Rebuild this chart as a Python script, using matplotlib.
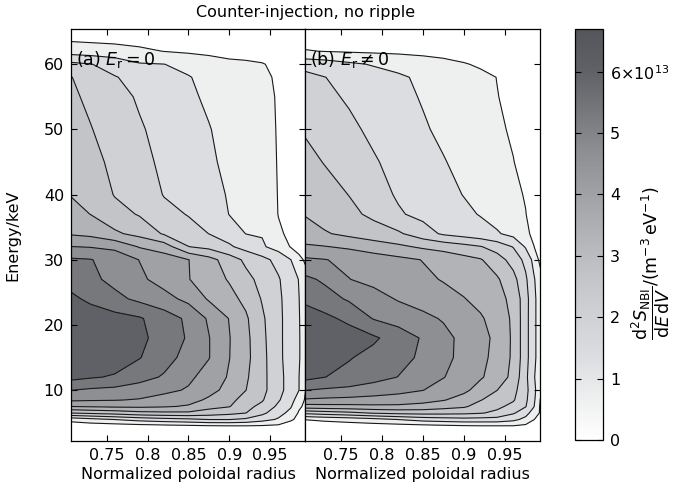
import numpy as np
import matplotlib
matplotlib.use("Agg")
import matplotlib.pyplot as plt
from matplotlib.colors import LinearSegmentedColormap, Normalize
from matplotlib.cm import ScalarMappable

plt.rcParams["font.family"] = "DejaVu Sans"
plt.rcParams["mathtext.fontset"] = "dejavusans"

# grid
radius = [0.706, 0.73, 0.76, 0.79, 0.82, 0.85, 0.875, 0.90, 0.92, 0.94, 0.96, 0.975, 0.985, 0.993]
energy = [2, 4.5, 5.5, 6.5, 7.5, 8.5, 10, 12, 15, 18, 21, 24, 27, 30, 32, 34, 37, 40, 45, 50, 55, 58, 60, 62, 64, 66]

# contour spacing in 1e13 m^-3 eV^-1; tables below are in units of this step
step = 0.669

# (a) E_r = 0
s_er0 = np.array([
    [0, 0, 0, 0, 0, 0, 0, 0, 0, 0, 0, 0, 0, 0],
    [0.4, 0.45, 0.5, 0.6, 0.7, 0.8, 0.9, 0.95, 0.95, 0.9, 0.8, 0.6, 0.4, 0.3],
    [1.33, 1.67, 2.02, 2.38, 2.63, 2.8, 3.02, 3.02, 2.83, 2.38, 1.88, 1.12, 0.8, 0.6],
    [4.02, 4.2, 4.4, 4.7, 4.8, 4.83, 4.53, 4.27, 4.02, 3.25, 2.38, 1.7, 0.9, 0.7],
    [6.02, 6.1, 6.18, 6.2, 6.1, 5.9, 5.33, 5.05, 4.29, 3.75, 2.8, 2.1, 1.17, 0.8],
    [7.17, 7.1, 7.05, 6.93, 6.63, 6.33, 5.85, 5.32, 4.57, 4.1, 3.1, 2.4, 1.5, 0.9],
    [8.02, 7.85, 7.73, 7.54, 7.24, 6.9, 6.3, 5.7, 5.02, 4.3, 3.3, 2.6, 2.02, 1.02],
    [9.3, 9.1, 8.9, 8.35, 7.9, 7.2, 6.6, 5.9, 5.15, 4.3, 3.3, 2.6, 2.02, 1.3],
    [9.8, 9.7, 9.5, 9.05, 8.38, 7.66, 7.04, 6.02, 5.29, 4.3, 3.25, 2.52, 2.05, 1.7],
    [9.9, 9.85, 9.7, 9.25, 8.57, 7.9, 7.04, 6.04, 5.27, 4.24, 3.24, 2.52, 2.05, 1.7],
    [9.6, 9.5, 9.35, 9.1, 8.51, 7.8, 6.86, 5.96, 5.16, 4.16, 3.24, 2.52, 2.05, 1.6],
    [9.2, 8.82, 8.27, 7.78, 7.34, 6.74, 5.89, 5.32, 4.75, 3.93, 3.19, 2.52, 2.02, 1.6],
    [8.64, 8.24, 7.72, 7.19, 6.63, 6.04, 5.49, 4.91, 4.3, 3.7, 3.09, 2.43, 1.97, 1.4],
    [8.14, 8.05, 7.59, 6.98, 6.49, 6.02, 5.36, 4.52, 3.8, 3.32, 2.68, 2.02, 1.29, 0.85],
    [7.02, 6.95, 6.78, 5.93, 5.53, 4.02, 3.72, 3.14, 2.64, 2.13, 1.6, 0.95, 0.6, 0.4],
    [5.9, 5.74, 5.16, 4.71, 3.9, 3.43, 2.99, 2.56, 1.99, 1.94, 1.15, 0.8, 0.5, 0.3],
    [5.38, 4.99, 4.39, 3.92, 3.35, 2.94, 2.8, 1.97, 1.88, 1.83, 0.97, 0.6, 0.4, 0.3],
    [4.96, 4.78, 3.94, 3.75, 2.95, 2.81, 2.62, 1.85, 1.76, 1.72, 0.95, 0.6, 0.4, 0.3],
    [4.7, 4.35, 3.74, 3.26, 2.83, 2.45, 2.14, 1.8, 1.52, 1.24, 0.97, 0.6, 0.4, 0.3],
    [4.44, 4.05, 3.57, 3.1, 2.7, 2.33, 2.04, 1.71, 1.46, 1.21, 0.96, 0.6, 0.4, 0.3],
    [4.18, 3.81, 3.33, 2.89, 2.52, 2.15, 1.86, 1.6, 1.38, 1.17, 0.95, 0.6, 0.4, 0.3],
    [4.04, 3.59, 3.05, 2.7, 2.37, 2.04, 1.79, 1.54, 1.35, 1.15, 0.9, 0.6, 0.4, 0.3],
    [3.24, 3.04, 2.63, 2.08, 2.01, 1.79, 1.5, 1.2, 1.15, 1.05, 0.8, 0.5, 0.35, 0.3],
    [1.57, 1.48, 1.37, 1.2, 0.98, 0.85, 0.75, 0.7, 0.65, 0.6, 0.5, 0.4, 0.3, 0.25],
    [0.8, 0.75, 0.7, 0.6, 0.55, 0.5, 0.45, 0.4, 0.4, 0.35, 0.3, 0.3, 0.25, 0.2],
    [0.3, 0.3, 0.3, 0.25, 0.25, 0.2, 0.2, 0.2, 0.2, 0.15, 0.15, 0.1, 0.1, 0.1],
]) * step

# (b) E_r != 0
s_er = np.array([
    [0, 0, 0, 0, 0, 0, 0, 0, 0, 0, 0, 0, 0, 0],
    [0.4, 0.45, 0.5, 0.55, 0.6, 0.7, 0.8, 0.9, 0.95, 0.95, 0.95, 0.8, 0.6, 0.4],
    [1.02, 1.2, 1.4, 1.67, 2.02, 2.4, 2.55, 2.67, 2.64, 2.62, 2.27, 1.7, 1.02, 0.75],
    [3.25, 3.5, 3.75, 4.1, 4.27, 4.33, 4.29, 4.22, 4.08, 3.78, 3.12, 2.4, 1.5, 0.9],
    [5.6, 5.67, 5.71, 5.79, 5.8, 5.67, 5.38, 5.14, 4.58, 4.24, 3.7, 3.05, 2.05, 0.85],
    [6.89, 6.8, 6.73, 6.65, 6.55, 6.32, 6.06, 5.62, 5.05, 4.55, 4.1, 3.2, 2.2, 0.95],
    [8.02, 7.87, 7.75, 7.51, 7.29, 7.02, 6.53, 6.2, 5.63, 5.02, 4.3, 3.3, 2.3, 1.2],
    [9.3, 9.02, 8.7, 8.35, 7.98, 7.5, 7.04, 6.5, 6.1, 5.6, 4.7, 3.25, 2.1, 1.3],
    [9.8, 9.5, 9.07, 8.69, 8.3, 7.84, 7.27, 6.71, 6.27, 5.69, 4.83, 3.38, 2.22, 1.5],
    [9.9, 9.75, 9.5, 9.15, 8.54, 7.9, 7.29, 6.73, 6.31, 5.78, 4.83, 3.38, 2.22, 1.5],
    [9.5, 9.25, 8.76, 7.94, 7.59, 7.24, 6.91, 6.47, 6.12, 5.58, 4.83, 3.38, 2.22, 1.5],
    [8.8, 8.4, 7.88, 7.38, 6.92, 6.6, 6.32, 6.04, 5.7, 5.32, 4.75, 3.4, 2.22, 1.5],
    [8.22, 7.85, 7.02, 6.73, 6.45, 6.18, 5.94, 5.63, 5.38, 5.13, 4.33, 3.17, 2.1, 1.4],
    [7.17, 7.04, 6.78, 6.51, 6.25, 5.97, 5.65, 5.33, 5.08, 4.46, 3.6, 2.73, 1.71, 0.7],
    [6.11, 6.05, 5.83, 5.5, 5.2, 4.84, 4.63, 4.33, 4.06, 3.57, 2.95, 1.9, 1.02, 0.6],
    [5.56, 5.1, 4.76, 4.46, 4.15, 3.44, 2.85, 2.57, 2.34, 2.11, 1.68, 1.19, 0.8, 0.5],
    [4.94, 4.6, 4.25, 3.78, 3.11, 2.73, 2.46, 2.18, 1.95, 1.61, 1.27, 1.02, 0.7, 0.5],
    [4.71, 4.4, 3.98, 3.39, 2.89, 2.55, 2.26, 1.97, 1.7, 1.43, 1.16, 0.95, 0.65, 0.45],
    [4.31, 3.96, 3.52, 3.09, 2.71, 2.35, 2.05, 1.75, 1.51, 1.27, 1.02, 0.75, 0.55, 0.4],
    [3.91, 3.59, 3.19, 2.81, 2.45, 2.1, 1.82, 1.55, 1.34, 1.13, 0.9, 0.65, 0.5, 0.35],
    [3.44, 3.2, 2.89, 2.57, 2.25, 1.93, 1.68, 1.42, 1.22, 1.02, 0.85, 0.6, 0.45, 0.35],
    [3.3, 3.02, 2.72, 2.42, 2.13, 1.84, 1.6, 1.37, 1.18, 0.99, 0.8, 0.6, 0.45, 0.35],
    [2.65, 2.5, 2.18, 1.92, 1.72, 1.45, 1.25, 1.05, 0.9, 0.75, 0.65, 0.5, 0.4, 0.3],
    [1.06, 0.97, 0.9, 0.85, 0.8, 0.75, 0.7, 0.65, 0.6, 0.55, 0.5, 0.4, 0.35, 0.3],
    [0.6, 0.55, 0.5, 0.5, 0.45, 0.45, 0.4, 0.4, 0.35, 0.35, 0.3, 0.3, 0.25, 0.2],
    [0.3, 0.3, 0.3, 0.25, 0.25, 0.2, 0.2, 0.2, 0.2, 0.15, 0.15, 0.1, 0.1, 0.1],
]) * step

xticks = [0.75, 0.8, 0.85, 0.9, 0.95]
xticklabels = ["0.75", "0.8", "0.85", "0.9", "0.95"]
yticks = [10, 20, 30, 40, 50, 60]
cbar_ticks = [0, 1, 2, 3, 4, 5, 6]
cbar_labels = ["0", "1", "2", "3", "4", "5", r"6$\times$10$^{13}$"]

levels = np.arange(11) * step
grey_steps = ["#ffffff", "#eeefef", "#dcdde0", "#d0d1d4", "#c3c4c7", "#b2b3b6",
              "#a0a1a5", "#8e8f93", "#77787c", "#606166", "#55565b"]
cmap = LinearSegmentedColormap.from_list("greys", grey_steps)
norm = Normalize(0, levels[-1])
band_colors = [cmap(norm(v)) for v in levels[:-1]]

fs = 11.5

fig = plt.figure(figsize=(6.81, 4.96), dpi=100)
ax1 = fig.add_axes([0.1043, 0.1109, 0.3436, 0.8306])
ax2 = fig.add_axes([0.4479, 0.1109, 0.3451, 0.8306])
cax = fig.add_axes([0.8443, 0.1129, 0.0411, 0.828])

panels = [(ax1, s_er0, r"(a) $E_\mathrm{r} = 0$"), (ax2, s_er, r"(b) $E_\mathrm{r} \neq 0$")]
for ax, s, label in panels:
    ax.contourf(radius, energy, s, levels=levels, colors=band_colors)
    ax.contour(radius, energy, s, levels=levels[1:10], colors="#1a1a1a", linewidths=0.8)
    ax.set_xlim(0.7065, 0.9925)
    ax.set_ylim(2.2, 65.4)
    ax.set_xticks(xticks)
    ax.set_xticklabels(xticklabels)
    ax.set_yticks(yticks)
    ax.tick_params(direction="in", top=True, right=True, length=4, width=0.8, labelsize=fs, pad=5)
    ax.set_xlabel("Normalized poloidal radius", fontsize=fs, labelpad=3)
    ax.text(0.022, 0.925, label, transform=ax.transAxes, fontsize=12.5, va="center", ha="left")
    for sp in ax.spines.values():
        sp.set_linewidth(0.9)

ax2.set_yticklabels([])
ax1.set_ylabel("Energy/keV", fontsize=fs)
ax1.yaxis.set_label_coords(-0.215, 0.5)

fig.text(0.449, 0.974, "Counter-injection, no ripple", ha="center", va="center", fontsize=fs)

sm = ScalarMappable(norm=norm, cmap=cmap)
cb = fig.colorbar(sm, cax=cax)
cb.set_ticks(cbar_ticks)
cb.set_ticklabels(cbar_labels)
cb.ax.tick_params(direction="in", left=True, right=True, length=4, width=0.8, labelsize=fs, pad=5)
cb.outline.set_linewidth(0.9)
cb.set_label(r"$\dfrac{\mathrm{d}^2 S_\mathrm{NBI}}{\mathrm{d}E\,\mathrm{d}V}/(\mathrm{m}^{-3}\,\mathrm{eV}^{-1})$",
             fontsize=12.5)
cb.ax.yaxis.set_label_coords(1.95, 0.43)

fig.savefig("out.png", dpi=100)
